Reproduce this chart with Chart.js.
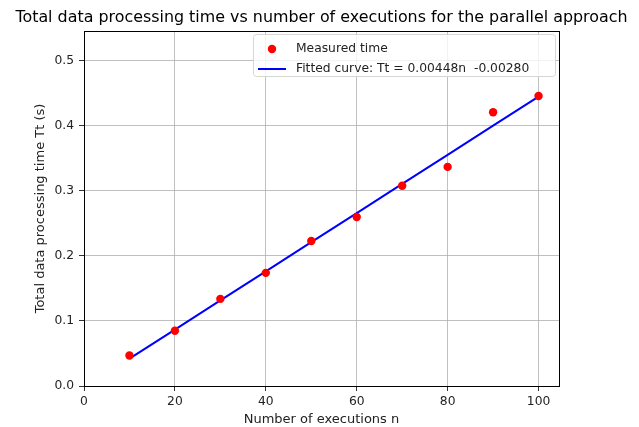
<!DOCTYPE html>
<html>
<head>
<meta charset="utf-8">
<script src="https://cdn.jsdelivr.net/npm/chart.js@4.4.1/dist/chart.umd.min.js"></script>
<style>
html,body{margin:0;padding:0;background:#fff;}
#wrap{width:639px;height:427px;position:relative;}
</style>
</head>
<body>
<div id="wrap"><canvas id="c" width="639" height="427"></canvas></div>
<script>
const executions = [10, 20, 30, 40, 50, 60, 70, 80, 90, 100];
const measuredTime = [0.047, 0.085, 0.134, 0.174, 0.223, 0.260, 0.308, 0.337, 0.421, 0.446];
const fitSlope = 0.00448;
const fitIntercept = -0.00280;
const xTicks = [0, 20, 40, 60, 80, 100];
const yTicks = [0.0, 0.1, 0.2, 0.3, 0.4, 0.5];
const titleText = 'Total data processing time vs number of executions for the parallel approach';
const xLabel = 'Number of executions n';
const yLabel = 'Total data processing time Tt (s)';
const legendLabels = ['Measured time', 'Fitted curve: Tt = 0.00448n  -0.00280'];

const fitted = executions.map(n => ({x: n, y: fitSlope * n + fitIntercept}));
const scatter = executions.map((n, i) => ({x: n, y: measuredTime[i]}));

const FONT = 'DejaVu Sans';

const titlePlugin = {
  id: 'mplTitle',
  afterDraw(chart) {
    const ctx = chart.ctx, a = chart.chartArea;
    ctx.save();
    ctx.fillStyle = '#000';
    ctx.font = '15.9px "' + FONT + '"';
    ctx.textAlign = 'center';
    ctx.textBaseline = 'alphabetic';
    ctx.fillText(titleText, (a.left + a.right) / 2, 22);
    ctx.restore();
  }
};

const legendPlugin = {
  id: 'mplLegend',
  afterDraw(chart) {
    const ctx = chart.ctx;
    const x0 = 253.5, y0 = 34.5, w = 302, h = 42;
    ctx.save();
    ctx.fillStyle = 'rgba(255,255,255,0.8)';
    ctx.strokeStyle = '#d6d6d6';
    ctx.lineWidth = 1;
    ctx.beginPath();
    const r = 3;
    ctx.moveTo(x0 + r, y0);
    ctx.arcTo(x0 + w, y0, x0 + w, y0 + h, r);
    ctx.arcTo(x0 + w, y0 + h, x0, y0 + h, r);
    ctx.arcTo(x0, y0 + h, x0, y0, r);
    ctx.arcTo(x0, y0, x0 + w, y0, r);
    ctx.closePath();
    ctx.fill();
    ctx.stroke();
    ctx.fillStyle = 'red';
    ctx.beginPath();
    ctx.arc(272, 49, 4.2, 0, Math.PI * 2);
    ctx.fill();
    ctx.strokeStyle = 'blue';
    ctx.lineWidth = 2;
    ctx.beginPath();
    ctx.moveTo(258, 69);
    ctx.lineTo(286, 69);
    ctx.stroke();
    ctx.fillStyle = '#222';
    ctx.font = '12.3px "' + FONT + '"';
    ctx.textBaseline = 'middle';
    ctx.textAlign = 'left';
    ctx.fillText(legendLabels[0], 296, 49);
    ctx.fillText(legendLabels[1], 296, 69);
    ctx.restore();
  }
};

const frame = {
  id: 'frame',
  afterDatasetsDraw(chart) {
    const a = chart.chartArea, ctx = chart.ctx;
    ctx.save();
    ctx.strokeStyle = '#000';
    ctx.lineWidth = 1;
    ctx.strokeRect(Math.round(a.left) + 0.5, Math.round(a.top) + 0.5, Math.round(a.right - a.left), Math.round(a.bottom - a.top));
    ctx.restore();
  }
};

new Chart(document.getElementById('c'), {
  type: 'scatter',
  data: {
    datasets: [
      {
        label: legendLabels[1],
        type: 'line',
        data: fitted,
        borderColor: 'blue',
        borderWidth: 2,
        pointRadius: 0,
        fill: false,
        tension: 0,
        order: 2
      },
      {
        label: legendLabels[0],
        data: scatter,
        backgroundColor: 'red',
        borderColor: 'red',
        pointRadius: 4.2,
        pointHoverRadius: 4.2,
        borderWidth: 0,
        order: 1
      }
    ]
  },
  options: {
    responsive: false,
    animation: false,
    layout: {padding: {left: 33, right: 80, top: 31, bottom: 0}},
    plugins: {
      legend: {display: false},
      tooltip: {enabled: false},
      title: {display: false}
    },
    scales: {
      x: {
        type: 'linear',
        min: 0,
        max: 104.5,
        afterBuildTicks(scale) { scale.ticks = xTicks.map(v => ({value: v})); },
        afterFit(scale) { scale.height = 41; },
        ticks: {
          color: '#222',
          font: {family: FONT, size: 12.3},
          padding: 3,
          maxRotation: 0,
          callback: v => String(v)
        },
        grid: {color: '#b0b0b0', lineWidth: 0.8, tickLength: 5, tickColor: '#000', drawTicks: true},
        border: {display: false},
        title: {display: true, text: xLabel, color: '#222', font: {family: FONT, size: 13}, padding: {top: 1, bottom: 0}}
      },
      y: {
        type: 'linear',
        min: 0,
        max: 0.546,
        afterBuildTicks(scale) { scale.ticks = yTicks.map(v => ({value: v})); },
        afterFit(scale) { scale.width = 51; },
        ticks: {
          color: '#222',
          font: {family: FONT, size: 12.3},
          padding: 5,
          callback: v => v.toFixed(1)
        },
        grid: {color: '#b0b0b0', lineWidth: 0.8, tickLength: 5, tickColor: '#000', drawTicks: true},
        border: {display: false},
        title: {display: true, text: yLabel, color: '#222', font: {family: FONT, size: 13}, padding: {top: 0, bottom: 0}}
      }
    }
  },
  plugins: [frame, legendPlugin, titlePlugin]
});
</script>
</body>
</html>
